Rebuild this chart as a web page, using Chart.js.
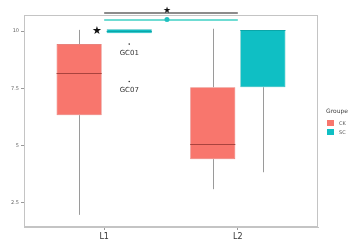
<!DOCTYPE html>
<html>
<head>
<meta charset="utf-8">
<script src="https://cdn.jsdelivr.net/npm/chart.js@4.4.0/dist/chart.umd.min.js"></script>
<style>
  html, body { margin: 0; padding: 0; background: #fff; }
</style>
</head>
<body>
<canvas id="chart" width="362" height="242"></canvas>
<script>
// categories and groups
const categories = ['L1', 'L2'];
const groups = ['CK', 'SC'];
const groupColors = ['#F8766D', '#0fbfc4'];
const groupBorders = ['#dd625c', '#0aa6a8'];
const medianColors = ['#a9433e', '#0aa6a8'];

// box statistics, one value per category
const ckMin = [1.98, 3.1];
const ckQ1 = [6.33, 4.41];
const ckMedian = [8.17, 5.07];
const ckQ3 = [9.43, 7.55];
const ckMax = [10.05, 10.1];

const scMin = [9.9, 3.84];
const scQ1 = [9.9, 7.55];
const scMedian = [10.0, 10.04];
const scQ3 = [10.08, 10.04];
const scMax = [10.08, 10.04];

// labelled outliers (SC, L1)
const outlierNames = ['GC01', 'GC07'];
const outlierValues = [9.43, 7.8];

// axis
const yTicks = [2.5, 5, 7.5, 10];
const yMin = 1.45;
const yMax = 10.7;

// significance marks: [x, y] in data units
const topBracketY = [10.79, 10.48];
const topStar = [1.47, 10.9];
const sideStar = [0.945, 10.0];

const stats = [
    { min: ckMin, q1: ckQ1, med: ckMedian, q3: ckQ3, max: ckMax },
    { min: scMin, q1: scQ1, med: scMedian, q3: scQ3, max: scMax }
];

function boxData(s) {
    return categories.map((c, i) => ({ x: i + 1, y: [s.q1[i], s.q3[i]] }));
}

const boxPlugin = {
    id: 'boxExtras',
    beforeDatasetsDraw(chart) {
        const ctx = chart.ctx, y = chart.scales.y;
        ctx.save();
        ctx.strokeStyle = '#9a9a9a';
        ctx.lineWidth = 1;
        stats.forEach((s, d) => {
            chart.getDatasetMeta(d).data.forEach((bar, i) => {
                const x = Math.round(bar.x) + 0.5;
                ctx.beginPath();
                ctx.moveTo(x, y.getPixelForValue(s.q3[i]));
                ctx.lineTo(x, y.getPixelForValue(s.max[i]));
                ctx.moveTo(x, y.getPixelForValue(s.q1[i]));
                ctx.lineTo(x, y.getPixelForValue(s.min[i]));
                ctx.stroke();
            });
        });
        ctx.restore();
    },
    afterDatasetsDraw(chart) {
        const ctx = chart.ctx, x = chart.scales.x, y = chart.scales.y;
        const area = chart.chartArea;
        ctx.save();

        // medians
        ctx.lineWidth = 1;
        stats.forEach((s, d) => {
            ctx.strokeStyle = medianColors[d];
            chart.getDatasetMeta(d).data.forEach((bar, i) => {
                const py = Math.round(y.getPixelForValue(s.med[i])) + 0.5;
                ctx.beginPath();
                ctx.moveTo(bar.x - bar.width / 2, py);
                ctx.lineTo(bar.x + bar.width / 2, py);
                ctx.stroke();
            });
        });

        // panel border
        ctx.strokeStyle = '#c4c4c4';
        ctx.strokeRect(area.left + 0.5, area.top + 0.5, area.right - area.left - 1, area.bottom - area.top - 1);

        // outliers with names
        const scBar = chart.getDatasetMeta(1).data[0];
        ctx.fillStyle = '#333';
        ctx.font = '7px "DejaVu Sans", sans-serif';
        ctx.textAlign = 'center';
        ctx.textBaseline = 'middle';
        outlierValues.forEach((v, k) => {
            const py = y.getPixelForValue(v);
            ctx.beginPath();
            ctx.arc(scBar.x, py, 0.8, 0, Math.PI * 2);
            ctx.fill();
            ctx.fillText(outlierNames[k], scBar.x, py + 9);
        });

        // brackets between L1 and L2
        const x1 = x.getPixelForValue(1), x2 = x.getPixelForValue(2);
        ctx.lineWidth = 2;
        ctx.strokeStyle = '#8c8c8c';
        ctx.beginPath();
        ctx.moveTo(x1, y.getPixelForValue(topBracketY[0]));
        ctx.lineTo(x2, y.getPixelForValue(topBracketY[0]));
        ctx.stroke();
        ctx.lineWidth = 1.5;
        ctx.strokeStyle = '#3fd0c4';
        ctx.beginPath();
        ctx.moveTo(x1, y.getPixelForValue(topBracketY[1]));
        ctx.lineTo(x2, y.getPixelForValue(topBracketY[1]));
        ctx.stroke();
        ctx.fillStyle = '#20c0c0';
        ctx.beginPath();
        ctx.arc(x.getPixelForValue(topStar[0]), y.getPixelForValue(topBracketY[1]) - 0.5, 2.5, 0, Math.PI * 2);
        ctx.fill();

        // stars
        ctx.fillStyle = '#111';
        ctx.font = '9px "DejaVu Sans", sans-serif';
        ctx.fillText('\u2605', x.getPixelForValue(topStar[0]), y.getPixelForValue(topStar[1]));
        ctx.font = '11px "DejaVu Sans", sans-serif';
        ctx.fillText('\u2605', x.getPixelForValue(sideStar[0]), y.getPixelForValue(sideStar[1]));

        // legend
        ctx.textAlign = 'left';
        ctx.fillStyle = '#444';
        ctx.font = '6px "DejaVu Sans", sans-serif';
        ctx.fillText('Groupe', 326, 111);
        groups.forEach((g, k) => {
            const ky = 120 + k * 9;
            ctx.fillStyle = groupColors[k];
            ctx.fillRect(327, ky, 7, 6);
            ctx.fillStyle = '#555';
            ctx.font = '5px "DejaVu Sans", sans-serif';
            ctx.fillText(g, 339, ky + 3.5);
        });
        ctx.restore();
    }
};

new Chart(document.getElementById('chart'), {
    type: 'bar',
    data: {
        datasets: groups.map((g, d) => ({
            label: g,
            data: boxData(stats[d]),
            backgroundColor: groupColors[d],
            borderColor: groupBorders[d],
            borderWidth: 0.6,
            borderSkipped: false,
            categoryPercentage: 0.75,
            barPercentage: 0.9
        }))
    },
    options: {
        responsive: false,
        devicePixelRatio: 1,
        animation: false,
        layout: { padding: { left: 0, top: 15, right: 44, bottom: 0 } },
        plugins: { legend: { display: false }, tooltip: { enabled: false } },
        scales: {
            x: {
                type: 'linear',
                min: 0.4,
                max: 2.6,
                offset: false,
                afterBuildTicks: s => { s.ticks = categories.map((c, i) => ({ value: i + 1 })); },
                afterFit: s => { s.height = 15; },
                ticks: {
                    callback: v => categories[v - 1],
                    font: { family: 'DejaVu Sans', size: 8 },
                    color: '#333',
                    padding: 2,
                    maxRotation: 0
                },
                grid: { offset: false, drawOnChartArea: false, tickLength: 3, tickColor: '#999' },
                border: { color: '#c4c4c4' }
            },
            y: {
                min: yMin,
                max: yMax,
                beginAtZero: false,
                afterBuildTicks: s => { s.ticks = yTicks.map(v => ({ value: v })); },
                afterFit: s => { s.width = 24; },
                ticks: {
                    font: { family: 'DejaVu Sans', size: 5 },
                    color: '#666',
                    padding: 2
                },
                grid: { drawOnChartArea: false, tickLength: 3, tickColor: '#999' },
                border: { color: '#c4c4c4' }
            }
        }
    },
    plugins: [boxPlugin]
});
</script>
</body>
</html>
